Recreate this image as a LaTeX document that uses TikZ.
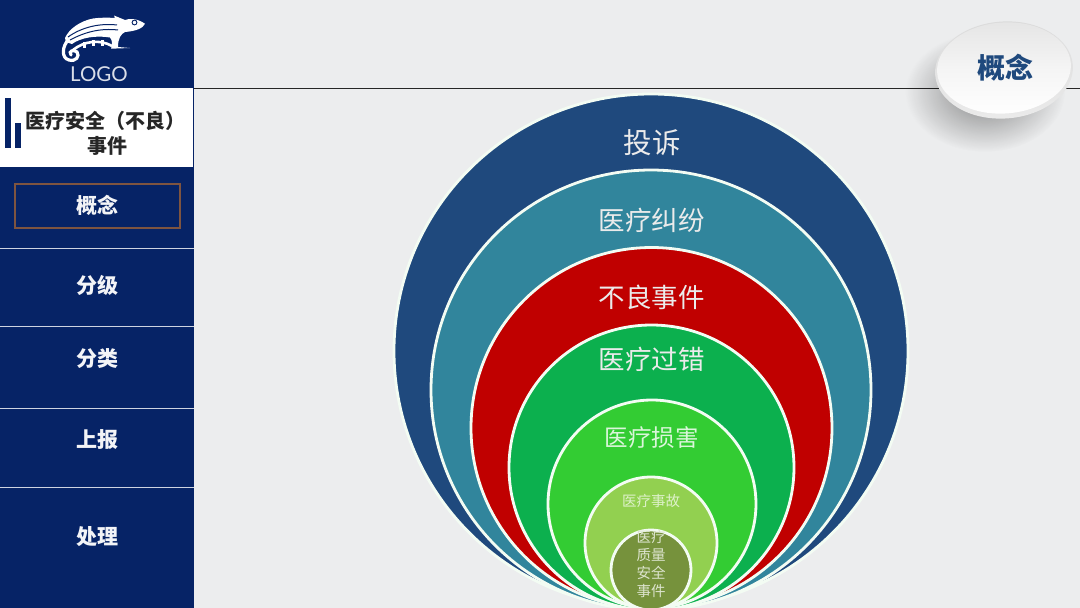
\documentclass[tikz,border=0pt]{standalone}
\usepackage{fontspec}
\setmainfont{Liberation Sans}
\newfontfamily\cjk{Noto Sans CJK SC}
\newcommand{\cjkb}{\cjk\bfseries}
\newfontfamily\logofont{Lato}
\usetikzlibrary{shadings,fadings,calc}
\definecolor{navy}{HTML}{062366}
\definecolor{ringA}{HTML}{1F497D}
\definecolor{ringB}{HTML}{31859C}
\definecolor{ringC}{HTML}{C00000}
\definecolor{ringD}{HTML}{0CB04E}
\definecolor{ringE}{HTML}{33CC33}
\definecolor{ringF}{HTML}{92D050}
\definecolor{ringG}{HTML}{76923C}
\definecolor{bgc}{HTML}{ECEDEE}
\definecolor{platetxt}{HTML}{1F497D}
\tikzset{
  x=1pt,y=-1pt,
  ring/.style={circle,draw=white!94!ringE,line width=2.8pt,minimum size=#1,inner sep=0pt},
  ringlabel/.style={font=\cjk,text=white!92!black,inner sep=0pt,align=center},
  menutxt/.style={font=\cjkb\fontsize{21}{24}\selectfont,text=white!95!navy,inner sep=0pt},
  divider/.style={draw=white!80!navy,line width=1pt},
}
\tikzfading[name=softfade,inner color=transparent!25,middle color=transparent!65,outer color=transparent!100]
\begin{document}
\begin{tikzpicture}
\useasboundingbox (0,0) rectangle (1080,608);
\fill[bgc] (0,0) rectangle (1080,608);
% header rule
\coordinate (ruleL) at (194,88);
\coordinate (ruleR) at (1080,88);
\draw[black!85,line width=1pt] (ruleL) -- (ruleR);
% sidebar
\fill[navy] (0,0) rectangle (194,608);
\fill[white] (0,88) rectangle (193,167);
\fill[navy] (5,98) rectangle (11,148);
\fill[navy] (15,123) rectangle (21,148);
\node[font=\cjkb\fontsize{20}{25.5}\selectfont,text=black!85,align=center,inner sep=0pt] (title) at (105.5,133.5) {医疗安全（不良）\\\hspace*{4pt}事件};
% logo
\node[font=\logofont\fontsize{20.5}{24}\selectfont,text=white!85!navy,inner sep=0pt] (logo) at (99,74.5) {LOGO};
\fill[white] (65,38) .. controls (69,29) and (80,21) .. (93,18.5) .. controls (100,17.5) and (108,17.5) .. (115,18) -- (114,15.5) -- (125,20) .. controls (130,18) and (137,18.5) .. (145,23.7) .. controls (143,28) and (137,31) .. (125,32) .. controls (121,34) and (118,38) .. (118,47) -- (130,48) -- (111,48.7) .. controls (113,44) and (112,40) .. (110,37.5) .. controls (95,35) and (80,38) .. (72,44) -- (66,42) -- cycle;
\draw[white,line width=3.2pt,line cap=round] (69,39) .. controls (62,46) and (61,58) .. (69,60) .. controls (76,62) and (80,56) .. (77,52) .. controls (74,49) and (68,51) .. (71,55);
\draw[white,line width=2.6pt] (73,50) .. controls (84,41) and (100,39) .. (112,46);
\foreach \lx/\ly in {83/42,92/40,101/40}{\fill[white] (\lx,\ly) rectangle ++(3,6);}
\draw[navy,line width=1pt] (68,37) .. controls (82,27) and (100,23) .. (117,25);
\draw[navy,line width=1pt] (70,40) .. controls (85,32) and (100,28) .. (118,30);
\draw[navy,line width=.9pt] (134.5,22.5) circle (2.4);
% active box
\node[draw={rgb,255:red,126;green,84;blue,64},line width=2pt,minimum width=165pt,minimum height=44pt,inner sep=0pt] (boxA) at (97,205.5) {};
\node[menutxt] (m1) at (97,205) {概念};
\draw[divider] (0,248) -- (194,248);
\node[menutxt] (m2) at (97,285) {分级};
\draw[divider] (0,326) -- (194,326);
\node[menutxt] (m3) at (97,359) {分类};
\draw[divider] (0,408) -- (194,408);
\node[menutxt] (m4) at (97,440) {上报};
\draw[divider] (0,487) -- (194,487);
\node[menutxt] (m5) at (97,537) {处理};
% plate
\fill[black,path fading=softfade,opacity=.6] (985,92) ellipse (80 and 60);
\shade[top color=black!14,bottom color=black!8,rotate around={4:(1004,70)}] (1004,70) ellipse (69 and 48.5);
\shade[top color=black!10,bottom color=white,middle color=white!96!black,rotate around={4:(1004,68)}] (1004,68) ellipse (67 and 45.5);
\node[font=\cjkb\fontsize{28}{30}\selectfont,text=platetxt,inner sep=0pt] (plate) at (1005,68) {概念};
% rings
\node[ring=514pt,fill=ringA] (r1) at (651,351) {};
\node[ring=440pt,fill=ringB] (r2) at (651,390) {};
\node[ring=361pt,fill=ringC] (r3) at (651.5,428) {};
\node[ring=285pt,fill=ringD] (r4) at (651.5,467.5) {};
\node[ring=208pt,fill=ringE] (r5) at (652,504) {};
\node[ring=132pt,fill=ringF] (r6) at (651,543) {};
\node[ring=80pt,fill=ringG] (r7) at (651,570) {};
\node[ringlabel,font=\cjk\fontsize{28.5}{30}\selectfont] (t1) at (652,143) {投诉};
\node[ringlabel,font=\cjk\fontsize{26.5}{30}\selectfont] (t2) at (651.5,220) {医疗纠纷};
\node[ringlabel,font=\cjk\fontsize{26.5}{30}\selectfont] (t3) at (651.5,297) {不良事件};
\node[ringlabel,font=\cjk\fontsize{26.5}{30}\selectfont] (t4) at (651.5,359) {医疗过错};
\node[ringlabel,font=\cjk\fontsize{23.5}{28}\selectfont,text=white!82!ringE] (t5) at (651.5,438) {医疗损害};
\node[ringlabel,font=\cjk\fontsize{14.5}{18}\selectfont,text=white!70!ringF] (t6) at (651,501) {医疗事故};
\node[ringlabel,font=\cjk\fontsize{14.5}{18.2}\selectfont,text=white!75!ringG] (t7) at (651,564) {医疗\\质量\\安全\\事件};
\end{tikzpicture}
\end{document}
